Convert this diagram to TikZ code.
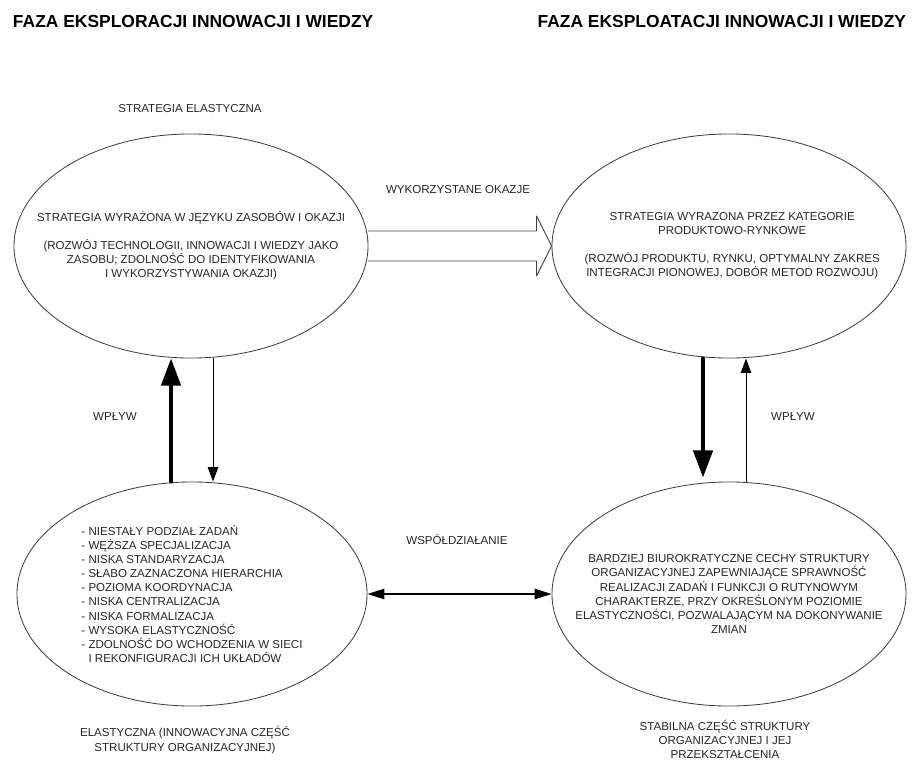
\documentclass[tikz,border=0pt]{standalone}
\usepackage{fontspec}
\setmainfont{Liberation Sans}
\usetikzlibrary{arrows.meta,shapes.geometric}

\begin{document}
\begin{tikzpicture}[x=0.025cm,y=-0.025cm,line cap=round,line join=round,
  txt/.style={font=\fontsize{8.2}{10}\selectfont,align=center,text=black!85},
  faza/.style={font=\fontsize{12.4}{14}\selectfont\bfseries},
  owal/.style={draw=black!75,line width=0.6pt,ellipse,inner sep=0pt,minimum width=8.85cm,minimum height=5.6cm},
  gruba/.style={-{Triangle[length=0.68cm,width=0.48cm]},line width=2.8pt},
  cienka/.style={-{Triangle[length=0.36cm,width=0.26cm]},line width=0.7pt},
  obie/.style={{Triangle[length=0.42cm,width=0.26cm]}-{Triangle[length=0.42cm,width=0.26cm]},line width=0.9pt}]
\useasboundingbox (0,0) rectangle (913,762);
% naglowki faz
\node[faza,anchor=west] (fazaL) at (8,21) {FAZA EKSPLORACJI INNOWACJI I WIEDZY};
\node[faza,anchor=east] (fazaP) at (911,21) {FAZA EKSPLOATACJI INNOWACJI I WIEDZY};
% owale
\node[owal] (sl) at (191,246) {};
\node[owal] (tr) at (729,246) {};
\node[owal,minimum width=8.75cm] (bl) at (192,594) {};
\node[owal] (br) at (729,594) {};
% strategie
\node[txt] (elast) at (190,109) {STRATEGIA ELASTYCZNA};
\node[txt] (slTxt) at (sl.center) {STRATEGIA WYRAŻONA W JĘZYKU ZASOBÓW I OKAZJI\\[10pt]
  (ROZWÓJ TECHNOLOGII, INNOWACJI I WIEDZY JAKO\\ ZASOBU; ZDOLNOŚĆ DO IDENTYFIKOWANIA\\ I WYKORZYSTYWANIA OKAZJI)};
\node[txt] (trTxt) at ([xshift=0.08cm]tr.center) {STRATEGIA WYRAZONA PRZEZ KATEGORIE\\ PRODUKTOWO-RYNKOWE\\[10pt]
  (ROZWÓJ PRODUKTU, RYNKU, OPTYMALNY ZAKRES\\ INTEGRACJI PIONOWEJ, DOBÓR METOD ROZWOJU)};
% struktury
\node[txt,align=left] (blTxt) at (bl.center) {- NIESTAŁY PODZIAŁ ZADAŃ\\ - WĘŻSZA SPECJALIZACJA\\
  - NISKA STANDARYZACJA\\ - SŁABO ZAZNACZONA HIERARCHIA\\ - POZIOMA KOORDYNACJA\\ - NISKA CENTRALIZACJA\\
  - NISKA FORMALIZACJA\\ - WYSOKA ELASTYCZNOŚĆ\\ - ZDOLNOŚĆ DO WCHODZENIA W SIECI\\ \phantom{-}\ I REKONFIGURACJI ICH UKŁADÓW};
\node[txt] (brTxt) at (br.center) {BARDZIEJ BIUROKRATYCZNE CECHY STRUKTURY\\ ORGANIZACYJNEJ ZAPEWNIAJĄCE SPRAWNOŚĆ\\
  REALIZACJI ZADAŃ I FUNKCJI O RUTYNOWYM\\ CHARAKTERZE, PRZY OKREŚLONYM POZIOMIE\\
  ELASTYCZNOŚCI, POZWALAJĄCYM NA DOKONYWANIE\\ ZMIAN};
\node[txt] (elastcz) at (185,740) {ELASTYCZNA (INNOWACYJNA CZĘŚĆ\\ STRUKTURY ORGANIZACYJNEJ)};
\node[txt] (stab) at (725,739) {STABILNA CZĘŚĆ STRUKTURY\\ ORGANIZACYJNEJ I JEJ\\ PRZEKSZTAŁCENIA};
% strzalka blokowa miedzy strategiami
\draw[line width=0.6pt,draw=black!75] ([yshift=0.375cm]sl.east) -- ([xshift=-0.375cm,yshift=0.375cm]tr.west)
  -- ([xshift=-0.375cm,yshift=0.75cm]tr.west) -- (tr.west) -- ([xshift=-0.375cm,yshift=-0.75cm]tr.west)
  -- ([xshift=-0.375cm,yshift=-0.375cm]tr.west) -- ([yshift=-0.375cm]sl.east);
\node[txt] (okazje) at (458,190) {WYKORZYSTANE OKAZJE};
% wplyw po lewej
\draw[gruba] ([xshift=-0.525cm]bl.north) -- ([xshift=-0.525cm]bl.north |- sl.south);
\draw[cienka] ([xshift=0.525cm]bl.north |- sl.south) -- ([xshift=0.525cm]bl.north);
\node[txt] (wplywL) at (115,417) {WPŁYW};
% wplyw po prawej
\draw[gruba] ([xshift=-0.65cm]br.north |- tr.south) -- ([xshift=-0.65cm,yshift=0.1cm]br.north);
\draw[cienka] ([xshift=0.425cm]br.north) -- ([xshift=0.425cm]br.north |- tr.south);
\node[txt] (wplywP) at (793,417) {WPŁYW};
% wspoldzialanie
\draw[obie] (bl.east) -- (br.west);
\node[txt] (wspol) at (457,540) {WSPÓŁDZIAŁANIE};
\end{tikzpicture}
\end{document}
